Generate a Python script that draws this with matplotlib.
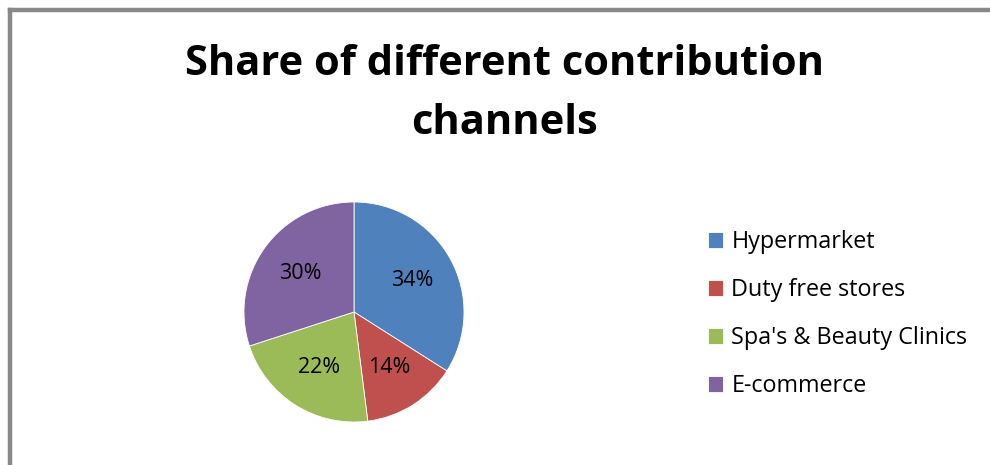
import matplotlib
matplotlib.use("Agg")
import matplotlib.pyplot as plt
from matplotlib.lines import Line2D

# Data
channels = ["Hypermarket", "Duty free stores", "Spa's & Beauty Clinics", "E-commerce"]
shares = [34, 14, 22, 30]
colors = ["#4F81BD", "#C0504D", "#9BBB59", "#8064A2"]

plt.rcParams["font.family"] = ["Open Sans", "DejaVu Sans"]

W, H = 990, 465
fig = plt.figure(figsize=(W / 100, H / 100), dpi=100)

# grey frame on the left and top edges
fig.add_artist(Line2D([10 / W, 10 / W], [0, 1 - 10 / H], transform=fig.transFigure,
                      color="#898989", linewidth=3.2, solid_capstyle="projecting"))
fig.add_artist(Line2D([10 / W, 1.0], [1 - 10 / H, 1 - 10 / H], transform=fig.transFigure,
                      color="#898989", linewidth=3.2, solid_capstyle="projecting"))

# pie centred at (354, 312) px, radius 110 px
cx, cy, r = 354, 312, 110
ax = fig.add_axes([(cx - r) / W, (H - cy - r) / H, 2 * r / W, 2 * r / H])
wedges, texts, autotexts = ax.pie(shares, colors=colors, startangle=90, counterclock=False,
                                  autopct="%1.0f%%", pctdistance=0.6,
                                  wedgeprops=dict(edgecolor="white", linewidth=0.6),
                                  textprops=dict(fontsize=15.5, color="black"))
ax.set_xlim(-1, 1)
ax.set_ylim(-1, 1)
ax.set_aspect("equal")

fig.text(505 / W, 1 - 64 / H, "Share of different contribution", ha="center", va="center",
         fontsize=30, fontweight="bold")
fig.text(505 / W, 1 - 124 / H, "channels", ha="center", va="center",
         fontsize=30, fontweight="bold")

fig.legend(wedges, channels, loc="upper left", bbox_to_anchor=(708 / W, 1 - 230 / H),
           frameon=False, fontsize=16.8, handlelength=0.65, handleheight=0.65,
           handletextpad=0.35, labelspacing=1.03, borderpad=0, borderaxespad=0)

fig.savefig("out.png", dpi=100)
